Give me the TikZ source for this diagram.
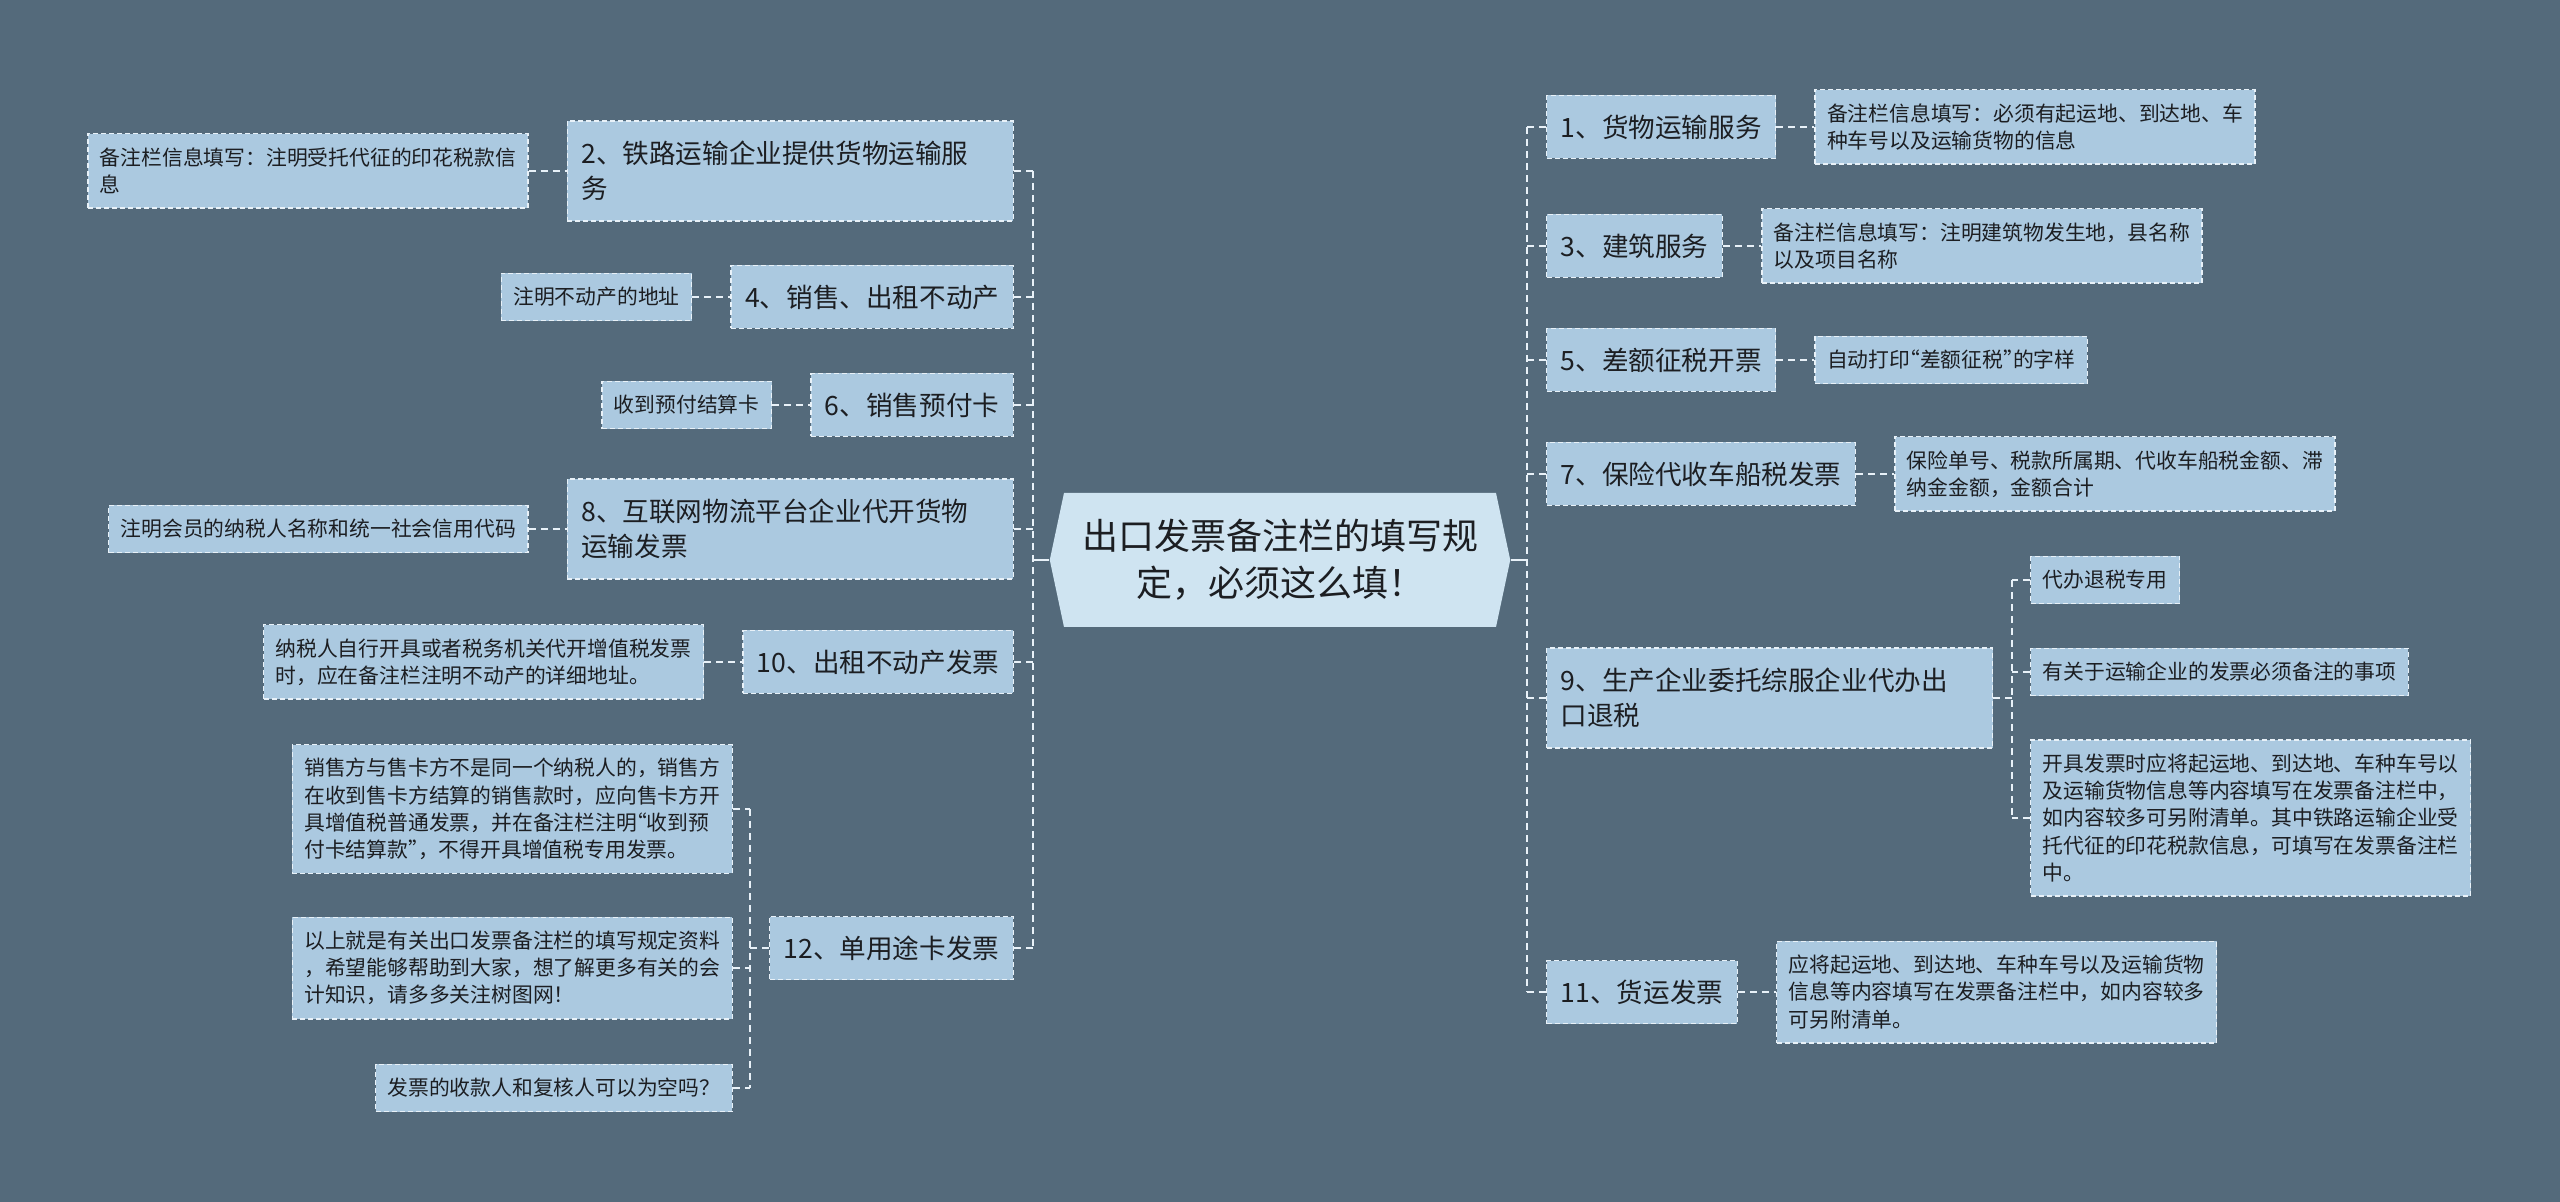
\documentclass[tikz,border=0pt]{standalone}
\usepackage{fontspec}
\setmainfont{Noto Sans CJK SC}
\usepackage{tikz}
\usetikzlibrary{
	calc,
	positioning,
	shapes.symbols
}
\definecolor{BgSlate}{RGB}{84,106,123}
\definecolor{BoxBlue}{RGB}{171,201,224}
\definecolor{RootBlue}{RGB}{207,228,241}
\definecolor{EdgeWhite}{RGB}{232,241,248}
\definecolor{InkDark}{RGB}{28,30,34}
\newcommand{\openq}{\kern-5.5pt“}
\newcommand{\closeq}{”\kern-5.5pt}

\tikzset{
	box/.style={draw=EdgeWhite, fill=BoxBlue, line width=0.7pt, dash pattern=on 2.5pt off 1.5pt,
		text=InkDark, inner xsep=7pt, inner ysep=4pt},
	topic/.style={box, font=\fontsize{13.3pt}{17.5pt}\selectfont, minimum height=31.5pt},
	topicwide/.style={topic, text width=209pt, align=left, minimum height=50pt},
	note/.style={box, inner xsep=6pt, font=\fontsize{10.4pt}{13.6pt}\selectfont, minimum height=23.6pt},
	notewide/.style={note, text width=208pt, align=left},
	rows/.style={minimum height={10pt+#1*13.6pt}},
	link/.style={draw=EdgeWhite, line width=1pt, dash pattern=on 3.5pt off 2.5pt},
	stub/.style={draw=EdgeWhite, line width=1pt}
}

\begin{document}
\begin{tikzpicture}[x=0.5pt, y=-0.5pt]
			\fill[BgSlate] (0,0) rectangle (2560,1202);
			\useasboundingbox (0,0) rectangle (2560,1202);
			% centre
			\node[signal, signal to=west and east, signal pointer angle=156, fill=RootBlue, text=InkDark,
				text width=198pt, align=center, inner xsep=9pt, minimum height=67pt,
				font=\fontsize{18pt}{23.5pt}\selectfont] (root) at (1280,560) {出口发票备注栏的填写规\\定，必须这么填！};
			\coordinate (LT) at (1033,560);
			\coordinate (RT) at (1527,560);
			% left branch
			\node[topicwide, anchor=east] (L2) at (1014,171) {2、铁路运输企业提供货物运输服\\务};
			\node[notewide, rows=2, left=19pt of L2] (L2n) {备注栏信息填写：注明受托代征的印花税款信\\息};
			\node[topic, anchor=east] (L4) at (1014,297) {4、销售、出租不动产};
			\node[note, left=19pt of L4] (L4n) {注明不动产的地址};
			\node[topic, anchor=east] (L6) at (1014,405) {6、销售预付卡};
			\node[note, left=19pt of L6] (L6n) {收到预付结算卡};
			\node[topicwide, anchor=east] (L8) at (1014,529) {8、互联网物流平台企业代开货物\\运输发票};
			\node[note, left=19pt of L8] (L8n) {注明会员的纳税人名称和统一社会信用代码};
			\node[topic, anchor=east] (L10) at (1014,662) {10、出租不动产发票};
			\node[notewide, rows=2, left=19pt of L10] (L10n) {纳税人自行开具或者税务机关代开增值税发票\\时，应在备注栏注明不动产的详细地址。};
			\node[topic, anchor=east] (L12) at (1014,948) {12、单用途卡发票};
			\node[notewide, rows=4, anchor=east] (L12a) at (733,809) {销售方与售卡方不是同一个纳税人的，销售方\\在收到售卡方结算的销售款时，应向售卡方开\\具增值税普通发票，并在备注栏注明\openq 收到预\\付卡结算款\closeq ，不得开具增值税专用发票。};
			\node[notewide, rows=3, anchor=east] (L12b) at (733,968) {以上就是有关出口发票备注栏的填写规定资料\\，希望能够帮助到大家，想了解更多有关的会\\计知识，请多多关注树图网！};
			\node[note, anchor=east] (L12c) at (733,1088) {发票的收款人和复核人可以为空吗？};
			% right branch
			\node[topic, anchor=west] (R1) at (1546,127) {1、货物运输服务};
			\node[notewide, rows=2, right=19pt of R1] (R1n) {备注栏信息填写：必须有起运地、到达地、车\\种车号以及运输货物的信息};
			\node[topic, anchor=west] (R3) at (1546,246) {3、建筑服务};
			\node[notewide, rows=2, right=19pt of R3] (R3n) {备注栏信息填写：注明建筑物发生地，县名称\\以及项目名称};
			\node[topic, anchor=west] (R5) at (1546,360) {5、差额征税开票};
			\node[note, right=19pt of R5] (R5n) {自动打印\openq 差额征税\closeq 的字样};
			\node[topic, anchor=west] (R7) at (1546,474) {7、保险代收车船税发票};
			\node[notewide, rows=2, right=19pt of R7] (R7n) {保险单号、税款所属期、代收车船税金额、滞\\纳金金额，金额合计};
			\node[topicwide, anchor=west] (R9) at (1546,698) {9、生产企业委托综服企业代办出\\口退税};
			\node[note, anchor=west] (R9a) at (2030,580) {代办退税专用};
			\node[note, anchor=west] (R9b) at (2030,672) {有关于运输企业的发票必须备注的事项};
			\node[notewide, rows=5, anchor=west] (R9c) at (2030,818) {开具发票时应将起运地、到达地、车种车号以\\及运输货物信息等内容填写在发票备注栏中，\\如内容较多可另附清单。其中铁路运输企业受\\托代征的印花税款信息，可填写在发票备注栏\\中。};
			\node[topic, anchor=west] (R11) at (1546,992) {11、货运发票};
			\node[notewide, rows=3, right=19pt of R11] (R11n) {应将起运地、到达地、车种车号以及运输货物\\信息等内容填写在发票备注栏中，如内容较多\\可另附清单。};
			% connectors
			\draw[stub] (root.west) -- (LT);
			\draw[stub] (root.east) -- (RT);
			\draw[link] (LT |- L2.east) -- (LT |- L12.east);
			\draw[link] (RT |- R1.west) -- (RT |- R11.west);
			\foreach \n in {L2,L4,L6,L8,L10,L12}
				\draw[link] (\n.east) -- (LT |- \n.east);
			\foreach \n in {R1,R3,R5,R7,R9,R11}
				\draw[link] (\n.west) -- (RT |- \n.west);
			\foreach \n in {L2,L4,L6,L8,L10}
				\draw[link] (\n n.east) -- (\n.west);
			\foreach \n in {R1,R3,R5,R7,R11}
				\draw[link] (\n.east) -- (\n n.west);
			\coordinate (LS) at ($(L12.west)+(-19,0)$);
			\coordinate (RS) at ($(R9.east)+(19,0)$);
			\draw[link] (L12.west) -- (LS);
			\draw[link] (LS |- L12a.east) -- (LS |- L12c.east);
			\foreach \c in {L12a,L12b,L12c}
				\draw[link] (\c.east) -- (LS |- \c.east);
			\draw[link] (R9.east) -- (RS);
			\draw[link] (RS |- R9a.west) -- (RS |- R9c.west);
			\foreach \c in {R9a,R9b,R9c}
				\draw[link] (\c.west) -- (RS |- \c.west);
		\end{tikzpicture}
\end{document}
